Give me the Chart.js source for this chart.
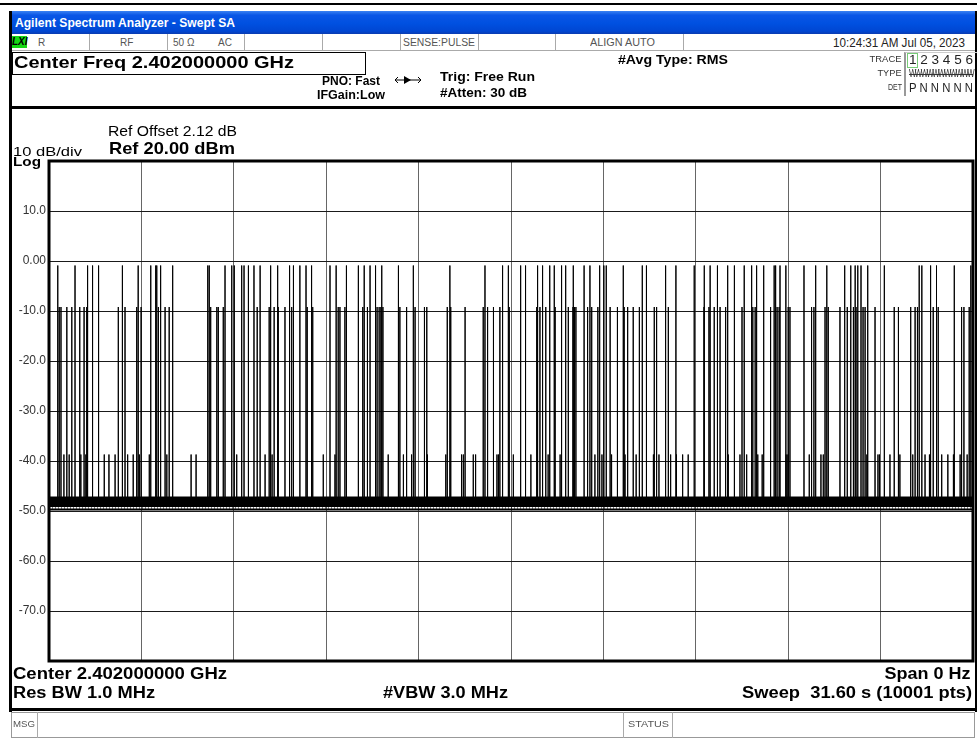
<!DOCTYPE html>
<html>
<head>
<meta charset="utf-8">
<script src="https://cdn.jsdelivr.net/npm/chart.js@4.4.0/dist/chart.umd.min.js"></script>
<style>
  html, body { margin: 0; padding: 0; background: #fff; }
  body { width: 977px; height: 740px; position: relative; overflow: hidden; font-family: "Liberation Sans", Arial, sans-serif; }
  .t { position: absolute; white-space: nowrap; line-height: 1; transform-origin: left center; }
  .r { transform-origin: right center; }
  .b { font-weight: bold; }
  .g { color: #555; font-size: 10px; }
  .k { position: absolute; box-sizing: border-box; }
  .div { position: absolute; top: 34px; width: 1px; height: 16px; background: #aaa; }
  #chartWrap { position: absolute; left: 0; top: 0; width: 977px; height: 740px; }
</style>
</head>
<body>
<div id="chartWrap"><canvas id="trace" width="977" height="740"></canvas></div>

<!-- window frame -->
<div class="k" style="left:0;top:3px;width:977px;height:2px;background:#000"></div>
<div class="k" style="left:9px;top:11px;width:3px;height:701px;background:#000"></div>
<div class="k" style="left:975px;top:11px;width:2px;height:701px;background:#000"></div>
<div class="k" style="left:12px;top:11px;width:963px;height:23px;background:linear-gradient(#3a82f2 0%,#0a56e6 18%,#0050e0 55%,#0046d2 88%,#0a3cb0 100%)"></div>
<div class="t b" style="left:15px;top:17px;font-size:12px;color:#fff" data-w="220">Agilent Spectrum Analyzer - Swept SA</div>

<!-- status row -->
<div class="k" style="left:12px;top:34px;width:963px;height:17px;background:#fff;border-bottom:1px solid #aaa"></div>
<div class="k" style="left:12px;top:36px;width:15px;height:12px;background:#14d814"></div>
<div class="t b" style="left:12px;top:37px;font-size:10px;font-style:italic;color:#000">LXI</div>
<div class="t g" style="left:38px;top:38px">R</div>
<div class="div" style="left:89px"></div>
<div class="t g" style="left:120px;top:38px">RF</div>
<div class="div" style="left:167px"></div>
<div class="t g" style="left:173px;top:38px">50 Ω</div>
<div class="t g" style="left:218px;top:38px">AC</div>
<div class="div" style="left:244px"></div>
<div class="div" style="left:322px"></div>
<div class="div" style="left:400px"></div>
<div class="t g" style="left:403px;top:38px" data-w="72">SENSE:PULSE</div>
<div class="div" style="left:478px"></div>
<div class="div" style="left:555px"></div>
<div class="t g" style="left:590px;top:38px" data-w="65">ALIGN AUTO</div>
<div class="div" style="left:683px"></div>
<div class="t" style="left:833px;top:37px;font-size:12px;color:#222" data-w="132">10:24:31 AM Jul 05, 2023</div>

<!-- header -->
<div class="k" style="left:12px;top:52px;width:354px;height:23px;border:1px solid #000"></div>
<div class="t b" style="left:14px;top:54px;font-size:17px;color:#000" data-w="280">Center Freq 2.402000000 GHz</div>
<div class="t b" style="left:322px;top:75px;font-size:12px" data-w="58">PNO: Fast</div>
<div class="t b" style="left:317px;top:89px;font-size:12px" data-w="68">IFGain:Low</div>
<svg class="k" style="left:394px;top:75px" width="28" height="10">
  <line x1="1" y1="5" x2="27" y2="5" stroke="#000" stroke-width="1"/>
  <polygon points="10,1 17,5 10,9" fill="#000"/>
  <polyline points="4,2 1,5 4,8" fill="none" stroke="#000"/>
  <polyline points="24,2 27,5 24,8" fill="none" stroke="#000"/>
</svg>
<div class="t b" style="left:440px;top:70px;font-size:13px" data-w="95">Trig: Free Run</div>
<div class="t b" style="left:440px;top:86px;font-size:13px" data-w="87">#Atten: 30 dB</div>
<div class="t b" style="left:618px;top:53px;font-size:13px" data-w="110">#Avg Type: RMS</div>

<div class="t r" style="right:75px;top:55px;font-size:9px;color:#333" data-w="32">TRACE</div>
<div class="t r" style="right:75px;top:69px;font-size:9px;color:#333" data-w="24">TYPE</div>
<div class="t r" style="right:75px;top:83px;font-size:9px;color:#333" data-w="14">DET</div>
<div class="k" style="left:904px;top:52px;width:73px;height:44px;border-left:2px solid #999;border-top:1px solid #ccc"></div>
<div class="k" style="left:907px;top:53px;width:11px;height:15px;border:1px solid #7c7"></div>
<div class="t" style="left:909px;top:54px;font-size:12px;color:#222" data-w="64">1 2 3 4 5 6</div>
<div class="t" style="left:909px;top:69px;font-size:10px;color:#333;letter-spacing:-2px;text-decoration:line-through" data-w="64">WWWWWWWWWWW</div>
<div class="t" style="left:909px;top:82px;font-size:12px;color:#222" data-w="64">P N N N N N</div>

<div class="k" style="left:9px;top:106px;width:968px;height:3px;background:#000"></div>

<!-- panel annotations -->
<div class="t" style="left:108px;top:124px;font-size:14px" data-w="129">Ref Offset 2.12 dB</div>
<div class="t b" style="left:109px;top:140px;font-size:17px" data-w="126">Ref 20.00 dBm</div>
<div class="t" style="left:13px;top:145px;font-size:13px" data-w="69">10 dB/div</div>
<div class="t b" style="left:13px;top:155px;font-size:13px" data-w="28">Log</div>

<div class="t b" style="left:13px;top:666px;font-size:16px" data-w="214">Center 2.402000000 GHz</div>
<div class="t b r" style="right:7px;top:666px;font-size:16px" data-w="86">Span 0 Hz</div>
<div class="t b" style="left:13px;top:685px;font-size:16px" data-w="142">Res BW 1.0 MHz</div>
<div class="t b" style="left:383px;top:685px;font-size:16px" data-w="125">#VBW 3.0 MHz</div>
<div class="t b r" style="right:5px;top:685px;font-size:16px;white-space:pre" data-w="230">Sweep  31.60 s (10001 pts)</div>

<div class="k" style="left:9px;top:708px;width:968px;height:3px;background:#000"></div>

<!-- message row -->
<div class="k" style="left:11px;top:712px;width:964px;height:26px;border:1px solid #999"></div>
<div class="k" style="left:37px;top:712px;width:1px;height:26px;background:#aaa"></div>
<div class="k" style="left:623px;top:712px;width:1px;height:26px;background:#aaa"></div>
<div class="k" style="left:672px;top:712px;width:1px;height:26px;background:#aaa"></div>
<div class="t" style="left:13px;top:720px;font-size:9px;color:#555" data-w="22">MSG</div>
<div class="t" style="left:628px;top:720px;font-size:9px;color:#555" data-w="41">STATUS</div>

<script>
// Sweep settings
const sweepTime = 31.6;      // s, zero span
const xDivisions = 10;
const refLevel = 20;         // dBm
const dbPerDiv = 10;
const yDivisions = 10;
const yTickLabels = ['', '10.0', '0.00', '-10.0', '-20.0', '-30.0', '-40.0', '-50.0', '-60.0', '-70.0', ''];

// Burst levels (dBm)
const tallLevel = -0.9;
const midLevel = -9.2;
const lowLevel = -38.7;
const floorLevel = -48.5;
const noiseTop = -47.2;
const noiseBottom = -49.1;
const noiseEdge = -49.7;

// Burst start times (s)
const tallBurstTimes = [0.30, 0.89, 1.32, 1.49, 1.70, 2.51, 3.05, 3.48, 3.65, 3.69, 3.83, 4.23, 5.43, 5.48, 6.02,
  6.25, 6.33, 6.59, 6.67, 6.82, 7.01, 7.22, 7.58, 7.82, 8.21, 8.36, 8.58, 8.79, 8.98, 9.61, 9.82, 10.16, 10.58,
  10.78, 10.98, 11.18, 11.38, 11.95, 12.46, 13.71, 14.91, 15.50, 15.71, 16.13, 16.28, 16.71, 16.88, 17.11, 17.28,
  17.53, 17.67, 17.93, 18.30, 18.50, 18.82, 18.98, 19.07, 19.64, 20.29, 20.44, 21.07, 21.44, 22.06, 22.41, 22.61,
  22.86, 23.21, 23.44, 23.78, 24.03, 24.20, 24.43, 24.80, 24.85, 25.00, 25.20, 25.82, 26.22, 26.60, 27.20, 27.42,
  27.57, 27.66, 27.77, 28.00, 28.56, 29.76, 29.85, 30.15, 30.36, 30.96, 31.52];

const midBurstTimes = [0.35, 0.41, 0.61, 0.78, 1.04, 1.20, 1.29, 1.69, 2.37, 2.60, 3.00, 3.15, 3.68, 3.74, 3.80,
  3.97, 4.11, 5.53, 5.74, 5.79, 5.96, 6.02, 6.34, 7.12, 7.22, 7.53, 7.70, 7.84, 8.07, 8.24, 8.30, 8.83, 9.02, 9.61,
  9.89, 9.95, 10.12, 10.18, 10.58, 10.73, 10.89, 11.22, 11.29, 11.35, 11.42, 12.00, 12.23, 12.52, 12.84, 12.92,
  13.62, 13.74, 14.23, 14.85, 15.00, 15.20, 15.42, 15.52, 15.74, 16.68, 16.79, 16.99, 17.13, 17.31, 17.53, 17.76,
  17.92, 17.97, 18.02, 18.42, 18.56, 18.77, 18.96, 19.05, 19.19, 19.44, 19.67, 19.79, 19.98, 20.19, 20.42, 20.70,
  20.78, 21.10, 21.18, 21.44, 22.07, 22.40, 22.57, 22.75, 22.95, 23.14, 23.44, 23.70, 23.77, 24.07, 24.15, 24.45,
  24.69, 24.80, 24.90, 24.97, 25.28, 25.34, 26.08, 26.16, 26.54, 26.65, 27.05, 27.22, 27.30, 27.51, 27.60, 27.84,
  27.91, 28.25, 28.57, 28.90, 29.05, 29.47, 29.62, 29.70, 30.15, 30.24, 30.41, 31.21, 31.29, 31.47];

const lowBurstTimes = [0.51, 0.61, 0.69, 0.78, 1.06, 1.09, 1.26, 1.89, 2.05, 2.26, 2.69, 2.88, 3.09, 3.43, 4.03,
  4.86, 5.03, 6.42, 7.39, 7.63, 7.70, 8.83, 9.38, 9.78, 11.15, 11.60, 12.12, 12.40, 12.94, 13.57, 13.74, 14.11,
  14.17, 14.51, 14.59, 15.32, 15.37, 15.88, 16.31, 16.48, 17.07, 17.13, 17.48, 18.67, 18.84, 18.91, 18.98, 19.05,
  19.24, 19.70, 20.08, 20.67, 20.86, 21.26, 21.46, 21.67, 21.86, 22.41, 23.23, 23.63, 23.86, 24.24, 24.39, 24.66,
  25.21, 25.27, 26.00, 26.16, 26.22, 26.40, 26.48, 26.60, 27.97, 28.35, 28.40, 28.57, 28.76, 28.91, 29.10, 29.54,
  29.96, 30.11, 30.34, 30.53, 30.74, 30.93, 31.16, 31.40, 31.47, 31.53];

// Build the trace: each burst goes floor -> peak -> floor
const bursts = [];
tallBurstTimes.forEach(t => bursts.push({ t: t, level: tallLevel }));
midBurstTimes.forEach(t => bursts.push({ t: t, level: midLevel }));
lowBurstTimes.forEach(t => bursts.push({ t: t, level: lowLevel }));
bursts.sort((a, b) => a.t - b.t);

const tracePoints = [{ x: 0, y: floorLevel }];
bursts.forEach(b => {
  tracePoints.push({ x: b.t, y: floorLevel }, { x: b.t, y: b.level }, { x: b.t, y: floorLevel });
});
tracePoints.push({ x: sweepTime, y: floorLevel });

function flat(level) {
  return [{ x: 0, y: level }, { x: sweepTime, y: level }];
}

// Thick frame round the graticule
const frame = {
  id: 'frame',
  afterDraw(chart) {
    const a = chart.chartArea;
    const ctx = chart.ctx;
    ctx.save();
    ctx.strokeStyle = '#000';
    ctx.lineWidth = 3;
    ctx.strokeRect(a.left, a.top, a.right - a.left, a.bottom - a.top);
    ctx.restore();
  }
};

const ctx = document.getElementById('trace').getContext('2d');
new Chart(ctx, {
  type: 'line',
  data: {
    datasets: [
      { data: flat(noiseTop), borderColor: '#000', borderWidth: 1, backgroundColor: '#000', fill: '+1', order: 3 },
      { data: flat(noiseBottom), borderColor: '#000', borderWidth: 1, fill: false, order: 3 },
      { data: flat(-49.4), borderColor: '#000', borderWidth: 1, borderDash: [1, 2], fill: false, order: 3 },
      { data: flat(noiseEdge), borderColor: '#000', borderWidth: 2, fill: false, order: 3 },
      { data: tracePoints, borderColor: '#000', borderWidth: 1, fill: false, order: 1 }
    ]
  },
  options: {
    responsive: false,
    animation: false,
    events: [],
    layout: { padding: { left: 9, top: 161, right: 4, bottom: 79 } },
    elements: { point: { radius: 0 }, line: { tension: 0 } },
    plugins: { legend: { display: false }, tooltip: { enabled: false } },
    scales: {
      x: {
        type: 'linear',
        min: 0,
        max: sweepTime,
        ticks: { display: false },
        grid: { color: '#666', lineWidth: 1, drawTicks: false },
        border: { display: false },
        afterBuildTicks(scale) {
          const ticks = [];
          for (let i = 0; i <= xDivisions; i++) ticks.push({ value: sweepTime * i / xDivisions });
          scale.ticks = ticks;
        },
        afterFit(scale) { scale.height = 0; }
      },
      y: {
        min: refLevel - dbPerDiv * yDivisions,
        max: refLevel,
        ticks: {
          stepSize: dbPerDiv,
          padding: 3,
          color: '#333',
          font: { family: 'Liberation Sans', size: 12 },
          callback: v => yTickLabels[Math.round((refLevel - v) / dbPerDiv)]
        },
        grid: { color: '#1a1a1a', lineWidth: 1, drawTicks: false },
        border: { display: false },
        afterFit(scale) { scale.width = 40; }
      }
    }
  },
  plugins: [frame]
});

// stretch the instrument texts to the widths seen on screen
document.querySelectorAll('[data-w]').forEach(el => {
  const w = el.getBoundingClientRect().width;
  el.style.transform = 'scaleX(' + (el.dataset.w / w).toFixed(3) + ')';
});
</script>
</body>
</html>
